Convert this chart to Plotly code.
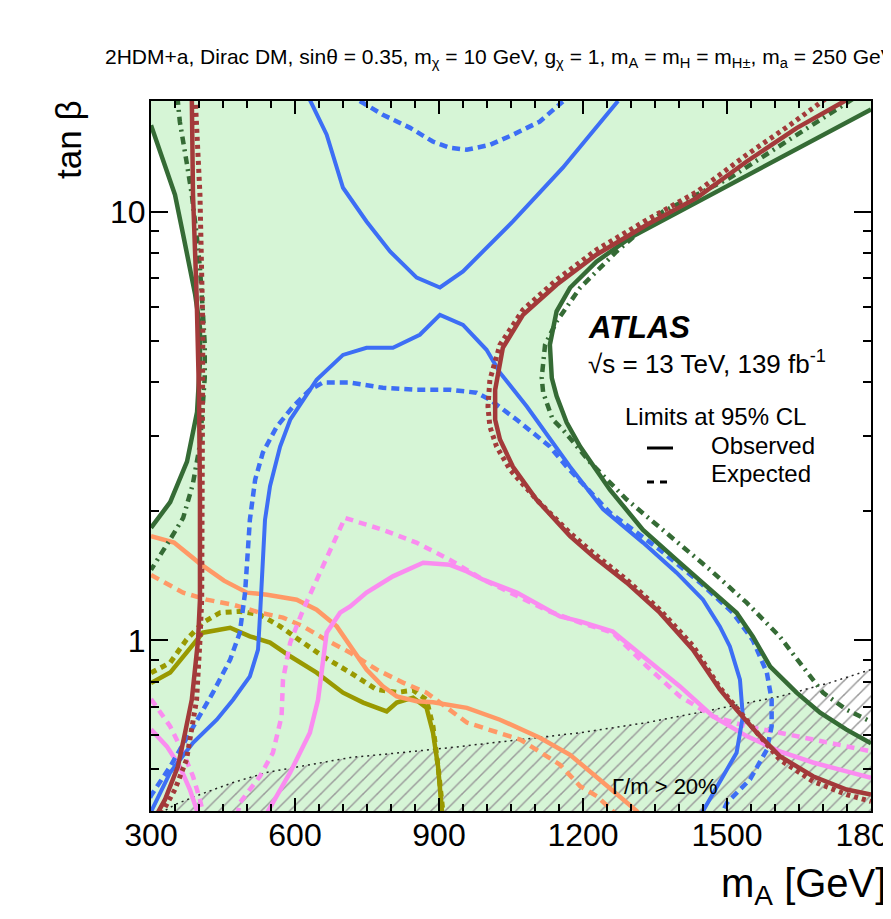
import numpy as np
import plotly.graph_objects as go

# ---------------- data (m_A in GeV, tan beta) ----------------
X_RANGE = [300, 1800]
Y_RANGE = [0.4, 18.1]
x_major = [300, 600, 900, 1200, 1500, 1800]
y_major = [1, 10]
y_minor = [0.4, 0.5, 0.6, 0.7, 0.8, 0.9, 2, 3, 4, 5, 6, 7, 8, 9]

# dark green (observed / expected), two branches each
g_obs_left_x = [300, 350, 367, 392, 402, 402, 396, 375, 340, 300]
g_obs_left_y = [15.9, 10.94, 8.83, 6.40, 5.36, 4.47, 3.41, 2.61, 2.10, 1.83]
g_obs_right_x = [1800, 1715, 1610, 1506, 1402, 1298, 1228, 1173, 1145, 1131, 1135, 1145, 1166, 1194,
                 1256, 1325, 1395, 1465, 1520, 1554, 1590, 1645, 1694, 1749, 1800]
g_obs_right_y = [17.3, 15.4, 13.35, 11.54, 10.0, 8.68, 7.64, 6.64, 5.85, 4.89, 4.09, 3.71, 3.22, 2.83,
                 2.245, 1.81, 1.54, 1.313, 1.16, 1.02, 0.868, 0.755, 0.678, 0.619, 0.575]
g_exp_left_x = [355, 360, 374, 385, 395, 402, 408, 412, 412, 408, 402, 387, 367, 340, 312, 300]
g_exp_left_y = [18.5, 16.21, 13.08, 10.94, 8.83, 7.39, 5.84, 4.89, 4.10, 3.41, 2.86, 2.31, 1.93, 1.72, 1.53, 1.46]
g_exp_right_x = [1762, 1645, 1506, 1367, 1270, 1194, 1145, 1121, 1114, 1117, 1137, 1158, 1215, 1291,
                 1381, 1465, 1541, 1610, 1658, 1700, 1749, 1791, 1800]
g_exp_right_y = [18.3, 15.1, 11.98, 10.0, 8.07, 6.64, 5.54, 4.89, 4.10, 3.78, 3.27, 3.10, 2.60, 2.13,
                 1.75, 1.46, 1.224, 1.02, 0.868, 0.755, 0.689, 0.653, 0.646]

# dark red
r_obs_left_x = [385, 387.5, 395, 400, 402, 402, 398, 385, 371, 356, 329, 315, 305]
r_obs_left_y = [18.5, 10.94, 6.40, 3.74, 2.19, 1.244, 1.0, 0.727, 0.609, 0.508, 0.425, 0.40, 0.38]
r_obs_right_x = [1749, 1645, 1541, 1437, 1333, 1228, 1145, 1075, 1033, 1020, 1017, 1017, 1027, 1054,
                 1103, 1173, 1221, 1291, 1360, 1429, 1458, 1485, 1520, 1562, 1610, 1679, 1749, 1800]
r_obs_right_y = [18.2, 15.65, 13.08, 10.76, 9.31, 7.93, 6.75, 5.74, 4.81, 4.10, 3.84, 3.27, 2.94, 2.54,
                 2.13, 1.75, 1.57, 1.363, 1.16, 0.951, 0.855, 0.768, 0.689, 0.609, 0.537, 0.482, 0.449, 0.437]
r_exp_left_x = [392, 402, 408, 408, 408, 405.6, 402, 395, 374, 350, 325, 315]
r_exp_left_y = [18.5, 10.94, 5.36, 2.61, 2.13, 1.244, 1.0, 0.727, 0.527, 0.449, 0.40, 0.38]
r_exp_right_x = [1705, 1631, 1541, 1437, 1333, 1228, 1145, 1075, 1027, 1006, 1002, 1006, 1020, 1048,
                 1103, 1173, 1221, 1291, 1360, 1429, 1485, 1527, 1569, 1610, 1679, 1749, 1800]
r_exp_right_y = [18.3, 15.91, 13.56, 11.11, 9.56, 8.14, 6.93, 5.90, 4.89, 4.05, 3.51, 3.15, 2.83, 2.50,
                 2.13, 1.78, 1.60, 1.385, 1.179, 0.972, 0.776, 0.678, 0.597, 0.527, 0.469, 0.437, 0.421]

# blue
b_obs_top_x = [631, 666, 700, 749, 798, 853.5, 902, 950, 1054, 1158, 1273]
b_obs_top_y = [18.2, 15.1, 11.36, 9.48, 8.07, 7.01, 6.65, 7.25, 9.48, 12.65, 18.1]
b_obs_low_x = [297, 304, 340, 387.5, 437, 471, 506, 523, 527, 533, 537.5, 548, 569, 590, 645, 700, 749,
               804, 860, 902, 950, 999, 1027, 1083, 1173, 1242, 1325, 1395, 1450, 1485, 1506, 1527,
               1533, 1520, 1485, 1450, 1440]
b_obs_low_y = [0.39, 0.407, 0.492, 0.577, 0.653, 0.727, 0.824, 0.951, 1.137, 1.488, 1.91, 2.29, 2.83,
               3.27, 4.05, 4.63, 4.81, 4.81, 5.16, 5.74, 5.44, 4.76, 4.21, 3.51, 2.54, 2.02, 1.69,
               1.438, 1.244, 1.078, 0.968, 0.81, 0.665, 0.547, 0.466, 0.40, 0.385]
b_exp_top_x = [735, 783, 840, 887, 923, 958, 1006, 1054, 1110, 1158]
b_exp_top_y = [18.1, 16.81, 15.67, 14.56, 14.08, 13.93, 14.30, 15.10, 16.21, 18.05]
b_exp_low_x = [298, 301.5, 340, 381, 429, 465, 485, 496, 502, 506, 517, 533, 562, 596, 631, 658, 715,
               783, 853, 923, 978, 1006, 1062, 1131, 1166, 1256, 1360, 1444, 1512, 1554, 1583, 1593,
               1593, 1583, 1548, 1500, 1492, 1488]
b_exp_low_y = [0.43, 0.437, 0.508, 0.609, 0.755, 0.902, 1.042, 1.292, 1.627, 1.91, 2.37, 2.74, 3.15,
               3.51, 3.84, 3.99, 3.99, 3.88, 3.84, 3.84, 3.78, 3.64, 3.27, 2.83, 2.54, 1.985, 1.627,
               1.363, 1.16, 1.0, 0.841, 0.727, 0.630, 0.556, 0.474, 0.418, 0.40, 0.39]

# pink
p_obs_a_x = [300, 333, 360, 381, 396, 405]
p_obs_a_y = [0.62, 0.566, 0.508, 0.449, 0.40, 0.38]
p_obs_b_x = [540, 544, 590, 631, 648, 656, 666, 694, 715, 749, 804, 867, 923, 958, 992, 1062, 1152,
             1194, 1262, 1333, 1402, 1471, 1541, 1610, 1679, 1749, 1800]
p_obs_b_y = [0.39, 0.40, 0.492, 0.609, 0.727, 0.870, 1.042, 1.16, 1.20, 1.292, 1.41, 1.517, 1.50,
             1.448, 1.385, 1.292, 1.137, 1.107, 1.049, 0.902, 0.781, 0.665, 0.598, 0.551, 0.519, 0.495, 0.478]
p_exp_a_x = [300, 340, 367, 387.5, 402, 408, 412]
p_exp_a_y = [0.73, 0.630, 0.547, 0.482, 0.425, 0.40, 0.38]
p_exp_b_x = [480, 485, 527, 554, 572, 575, 590, 617, 652, 676, 704, 783, 853, 923, 992, 1062, 1131,
             1194, 1262, 1333, 1402, 1471, 1541, 1610, 1679, 1749, 1800]
p_exp_b_y = [0.39, 0.418, 0.482, 0.547, 0.665, 0.81, 0.988, 1.179, 1.438, 1.656, 1.93, 1.81, 1.69,
             1.54, 1.385, 1.27, 1.166, 1.10, 1.042, 0.870, 0.740, 0.665, 0.630, 0.609, 0.587, 0.566, 0.551]

# orange
o_obs_x = [300, 348, 402, 452, 500, 542, 603.5, 645, 687, 715, 749, 783, 812, 853.5, 887.5, 958, 1027,
           1110, 1173, 1235, 1277, 1312, 1320]
o_obs_y = [1.75, 1.69, 1.51, 1.378, 1.292, 1.278, 1.244, 1.179, 1.078, 0.968, 0.855, 0.781, 0.740,
           0.721, 0.717, 0.696, 0.653, 0.593, 0.541, 0.473, 0.433, 0.40, 0.39]
o_exp_x = [300, 367, 416, 471, 527, 575, 617, 666, 715, 770, 825, 874, 902, 958, 1069, 1152, 1194,
           1229, 1262, 1270]
o_exp_y = [1.42, 1.292, 1.244, 1.211, 1.16, 1.13, 1.078, 1.0, 0.936, 0.855, 0.797, 0.755, 0.716,
           0.643, 0.587, 0.513, 0.457, 0.433, 0.40, 0.39]

# olive
v_obs_x = [300, 340, 374, 408, 465, 506, 548, 590, 645, 700, 742, 791, 812, 846, 874, 887.5, 898, 906, 907]
v_obs_y = [0.795, 0.841, 0.936, 1.042, 1.07, 1.022, 0.988, 0.918, 0.841, 0.755, 0.716, 0.683, 0.716,
           0.735, 0.697, 0.609, 0.508, 0.40, 0.39]
v_exp_x = [300, 340, 374, 408, 444, 485, 527, 569, 610, 658, 715, 770, 812, 846, 874, 887.5, 898, 908, 909]
v_exp_y = [0.84, 0.887, 1.004, 1.10, 1.16, 1.168, 1.148, 1.078, 1.0, 0.918, 0.841, 0.768, 0.756, 0.765,
           0.727, 0.630, 0.508, 0.40, 0.39]

# width/mass > 20% boundary
w_x = [320, 350, 402, 471, 541, 610, 715, 819, 923, 1194, 1333, 1471, 1610, 1715, 1800]
w_y = [0.395, 0.414, 0.437, 0.466, 0.492, 0.508, 0.533, 0.547, 0.562, 0.609, 0.643, 0.689, 0.740, 0.797, 0.855]

# ---------------- styling ----------------
FONT = "Liberation Sans, Arial, Helvetica, sans-serif"
C_GREEN = "#356b35"
C_RED = "#a33a3a"
C_BLUE = "#3d6ef5"
C_PINK = "#fa8cf0"
C_ORANGE = "#ff9966"
C_OLIVE = "#999900"
C_FILL = "#d6f5d6"

fig = go.Figure()

# excluded region: plot area minus the two allowed (white) islands bounded by the observed combined limit
fx = [290, 1810, 1810] + g_obs_right_x + [1810, 1810, 290, 290] + g_obs_left_x[::-1] + [290]
fy = [20, 20, g_obs_right_y[0]] + g_obs_right_y + [g_obs_right_y[-1], 0.3, 0.3, g_obs_left_y[-1]] \
    + g_obs_left_y[::-1] + [g_obs_left_y[0]]
fig.add_trace(go.Scatter(x=fx, y=fy, mode="lines", fill="toself", fillcolor=C_FILL,
                         line=dict(width=0), hoverinfo="skip", showlegend=False))

# hatched region Gamma/m > 20%
hx = w_x + [1810, 1810, 290, 290]
hy = w_y + [w_y[-1], 0.3, 0.3, w_y[0]]
fig.add_trace(go.Scatter(x=hx, y=hy, mode="lines", fill="toself", fillcolor="rgba(0,0,0,0)",
                         fillpattern=dict(shape="/", fgcolor="#9a9a9a", bgcolor="rgba(0,0,0,0)",
                                          size=10, solidity=0.15),
                         line=dict(width=0), hoverinfo="skip", showlegend=False))


def add_line(x, y, color, width, dash="solid"):
    fig.add_trace(go.Scatter(x=x, y=y, mode="lines", line=dict(color=color, width=width, dash=dash),
                             hoverinfo="skip", showlegend=False))


add_line(w_x, w_y, "#222222", 1.5, "2px,4px")

add_line(v_exp_x, v_exp_y, C_OLIVE, 5, "6px,5px")
add_line(v_obs_x, v_obs_y, C_OLIVE, 4.5)
add_line(o_exp_x, o_exp_y, C_ORANGE, 4.5, "9px,6px")
add_line(o_obs_x, o_obs_y, C_ORANGE, 4.5)
add_line(p_exp_a_x, p_exp_a_y, C_PINK, 4.5, "8px,6px")
add_line(p_exp_b_x, p_exp_b_y, C_PINK, 4.5, "8px,6px")
add_line(p_obs_a_x, p_obs_a_y, C_PINK, 4.5)
add_line(p_obs_b_x, p_obs_b_y, C_PINK, 4.5)
add_line(b_exp_top_x, b_exp_top_y, C_BLUE, 4.5, "8px,5px")
add_line(b_exp_low_x, b_exp_low_y, C_BLUE, 4.5, "8px,5px")
add_line(b_obs_top_x, b_obs_top_y, C_BLUE, 4)
add_line(b_obs_low_x, b_obs_low_y, C_BLUE, 4)
add_line(g_exp_left_x, g_exp_left_y, C_GREEN, 4.5, "8px,5px,2px,5px")
add_line(g_exp_right_x, g_exp_right_y, C_GREEN, 4.5, "8px,5px,2px,5px")
add_line(g_obs_left_x, g_obs_left_y, C_GREEN, 4.5)
add_line(g_obs_right_x, g_obs_right_y, C_GREEN, 4.5)
add_line(r_obs_left_x, r_obs_left_y, C_RED, 4.5)
add_line(r_obs_right_x, r_obs_right_y, C_RED, 4.5)
add_line(r_exp_left_x, r_exp_left_y, C_RED, 5, "4px,4px")
add_line(r_exp_right_x, r_exp_right_y, C_RED, 5, "4px,4px")

# ---------------- layout ----------------
# page has an 8px body margin; the figure is sized to fill the rest of the 891x919 window
OFF = 8
W, H = 891 - OFF, 919 - OFF
PL, PR, PT, PB = 151, 871, 101, 811          # plot area in page pixels
L, R, T, B = PL - OFF, 891 - PR, PT - OFF, 919 - PB
pw, ph = PR - PL, PB - PT


def px(xp):
    return (xp - PL) / pw


def py(yp):
    return (PB - yp) / ph


annots = [
    dict(x=px(103), y=py(58), xanchor="left", yanchor="middle",
         text="2HDM+a, Dirac DM, sinθ = 0.35, m<sub>χ</sub> = 10 GeV, g<sub>χ</sub> = 1, "
              "m<sub>A</sub> = m<sub>H</sub> = m<sub>H±</sub>, m<sub>a</sub> = 250 GeV",
         font=dict(size=21, color="black")),
    dict(x=px(586), y=py(327), xanchor="left", yanchor="middle", text="<b><i>ATLAS</i></b>",
         font=dict(size=31, color="black")),
    dict(x=px(586), y=py(363), xanchor="left", yanchor="middle",
         text="√s = 13 TeV, 139 fb<sup>-1</sup>", font=dict(size=26, color="black")),
    dict(x=px(623), y=py(416), xanchor="left", yanchor="middle", text="Limits at 95% CL",
         font=dict(size=24, color="black")),
    dict(x=px(709), y=py(445), xanchor="left", yanchor="middle", text="Observed",
         font=dict(size=24, color="black")),
    dict(x=px(709), y=py(473), xanchor="left", yanchor="middle", text="Expected",
         font=dict(size=24, color="black")),
    dict(x=px(665), y=py(786), xanchor="center", yanchor="middle", text="Γ/m > 20%",
         font=dict(size=22, color="black")),
    dict(x=px(888), y=py(886), xanchor="right", yanchor="middle", text="m<sub>A</sub> [GeV]",
         font=dict(size=40, color="black")),
    dict(x=px(68), y=py(140), xanchor="center", yanchor="middle", text="tan β", textangle=-90,
         font=dict(size=35, color="black")),
]
for a in annots:
    a.update(xref="paper", yref="paper", showarrow=False)

shapes = [
    dict(type="line", xref="paper", yref="paper", x0=px(647), x1=px(673), y0=py(448), y1=py(448),
         line=dict(color="black", width=3)),
    dict(type="line", xref="paper", yref="paper", x0=px(647), x1=px(654), y0=py(482), y1=py(482),
         line=dict(color="black", width=3)),
    dict(type="line", xref="paper", yref="paper", x0=px(660), x1=px(667), y0=py(482), y1=py(482),
         line=dict(color="black", width=3)),
]

fig.update_layout(
    template="none",
    width=W, height=H, margin=dict(l=L, r=R, t=T, b=B, pad=0, autoexpand=False),
    paper_bgcolor="white", plot_bgcolor="white",
    font=dict(family=FONT, color="black"),
    showlegend=False, annotations=annots, shapes=shapes,
    xaxis=dict(range=X_RANGE, tickvals=x_major, ticktext=[str(v) for v in x_major],
               ticks="inside", ticklen=13, tickwidth=1.5, tickcolor="black",
               showline=True, linecolor="black", linewidth=2, mirror="allticks",
               showgrid=False, zeroline=False, tickfont=dict(size=32),
               ticklabeloverflow="allow", automargin=False, ticklabelstandoff=-5,
               minor=dict(dtick=50, ticks="inside", ticklen=7, tickwidth=1.5, tickcolor="black",
                          showgrid=False)),
    yaxis=dict(type="log", range=[np.log10(Y_RANGE[0]), np.log10(Y_RANGE[1])],
               tickvals=y_major, ticktext=[str(v) for v in y_major],
               ticks="inside", ticklen=17, tickwidth=1.5, tickcolor="black",
               showline=True, linecolor="black", linewidth=2, mirror="allticks",
               showgrid=False, zeroline=False, tickfont=dict(size=32),
               ticklabeloverflow="allow", automargin=False, ticklabelstandoff=-3,
               minor=dict(tickvals=y_minor, ticks="inside", ticklen=8, tickwidth=1.5,
                          tickcolor="black", showgrid=False)),
)

fig.write_html("out.html")
